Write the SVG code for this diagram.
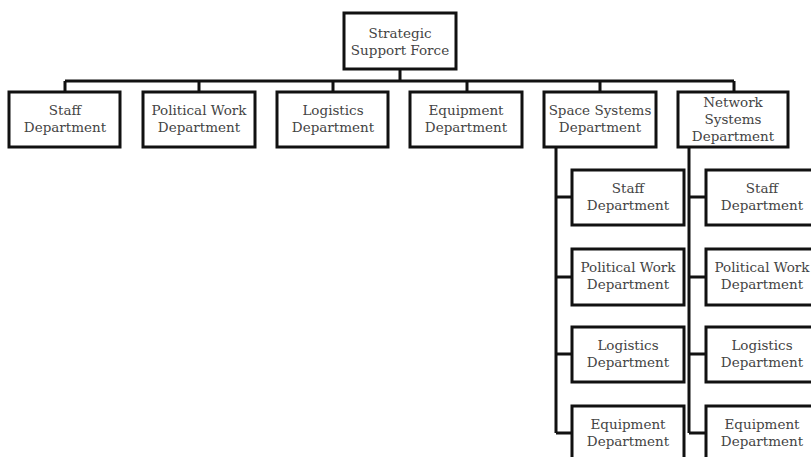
<svg xmlns="http://www.w3.org/2000/svg" width="811" height="457" viewBox="0 0 811 457">
<style>
.box{fill:#fff;stroke:#111;stroke-width:3}
.t{font-family:"DejaVu Serif","Liberation Serif",serif;font-size:13.5px;fill:#444;text-anchor:middle}
.c{fill:none;stroke:#111;stroke-width:3}
</style>
<rect width="811" height="457" fill="#fff"/>
<g id="connectors">
<path class="c" d="M400 69V81M65 81H734M65 81V92M199 81V92M333 81V92M467 81V92M600 81V92M734 81V92"/>
<path class="c" d="M556 147V433M556 197H572M556 277H572M556 354H572M556 433H572"/>
<path class="c" d="M689 147V433M689 197H706M689 277H706M689 354H706M689 433H706"/>
</g>
<g id="root"><rect class="box" x="344" y="13" width="112" height="56"/><text class="t" x="400" y="38">Strategic</text><text class="t" x="400" y="55">Support Force</text></g>
<g id="staff"><rect class="box" x="9" y="92" width="111" height="55"/><text class="t" x="65" y="115">Staff</text><text class="t" x="65" y="132">Department</text></g>
<g id="political"><rect class="box" x="143" y="92" width="112" height="55"/><text class="t" x="199" y="115">Political Work</text><text class="t" x="199" y="132">Department</text></g>
<g id="logistics"><rect class="box" x="277" y="92" width="111" height="55"/><text class="t" x="333" y="115">Logistics</text><text class="t" x="333" y="132">Department</text></g>
<g id="equipment"><rect class="box" x="410" y="92" width="112" height="55"/><text class="t" x="466" y="115">Equipment</text><text class="t" x="466" y="132">Department</text></g>
<g id="space"><rect class="box" x="544" y="92" width="112" height="55"/><text class="t" x="600" y="115">Space Systems</text><text class="t" x="600" y="132">Department</text></g>
<g id="network"><rect class="box" x="678" y="92" width="110" height="55"/><text class="t" x="733" y="107">Network</text><text class="t" x="733" y="124">Systems</text><text class="t" x="733" y="141">Department</text></g>
<g id="space-staff"><rect class="box" x="572" y="170" width="112" height="55"/><text class="t" x="628" y="193">Staff</text><text class="t" x="628" y="210">Department</text></g>
<g id="space-political"><rect class="box" x="572" y="249" width="112" height="56"/><text class="t" x="628" y="272">Political Work</text><text class="t" x="628" y="289">Department</text></g>
<g id="space-logistics"><rect class="box" x="572" y="327" width="112" height="55"/><text class="t" x="628" y="350">Logistics</text><text class="t" x="628" y="367">Department</text></g>
<g id="space-equipment"><rect class="box" x="572" y="406" width="112" height="56"/><text class="t" x="628" y="429">Equipment</text><text class="t" x="628" y="446">Department</text></g>
<g id="network-staff"><rect class="box" x="706" y="170" width="112" height="55"/><text class="t" x="762" y="193">Staff</text><text class="t" x="762" y="210">Department</text></g>
<g id="network-political"><rect class="box" x="706" y="249" width="112" height="56"/><text class="t" x="762" y="272">Political Work</text><text class="t" x="762" y="289">Department</text></g>
<g id="network-logistics"><rect class="box" x="706" y="327" width="112" height="55"/><text class="t" x="762" y="350">Logistics</text><text class="t" x="762" y="367">Department</text></g>
<g id="network-equipment"><rect class="box" x="706" y="406" width="112" height="56"/><text class="t" x="762" y="429">Equipment</text><text class="t" x="762" y="446">Department</text></g>
</svg>
